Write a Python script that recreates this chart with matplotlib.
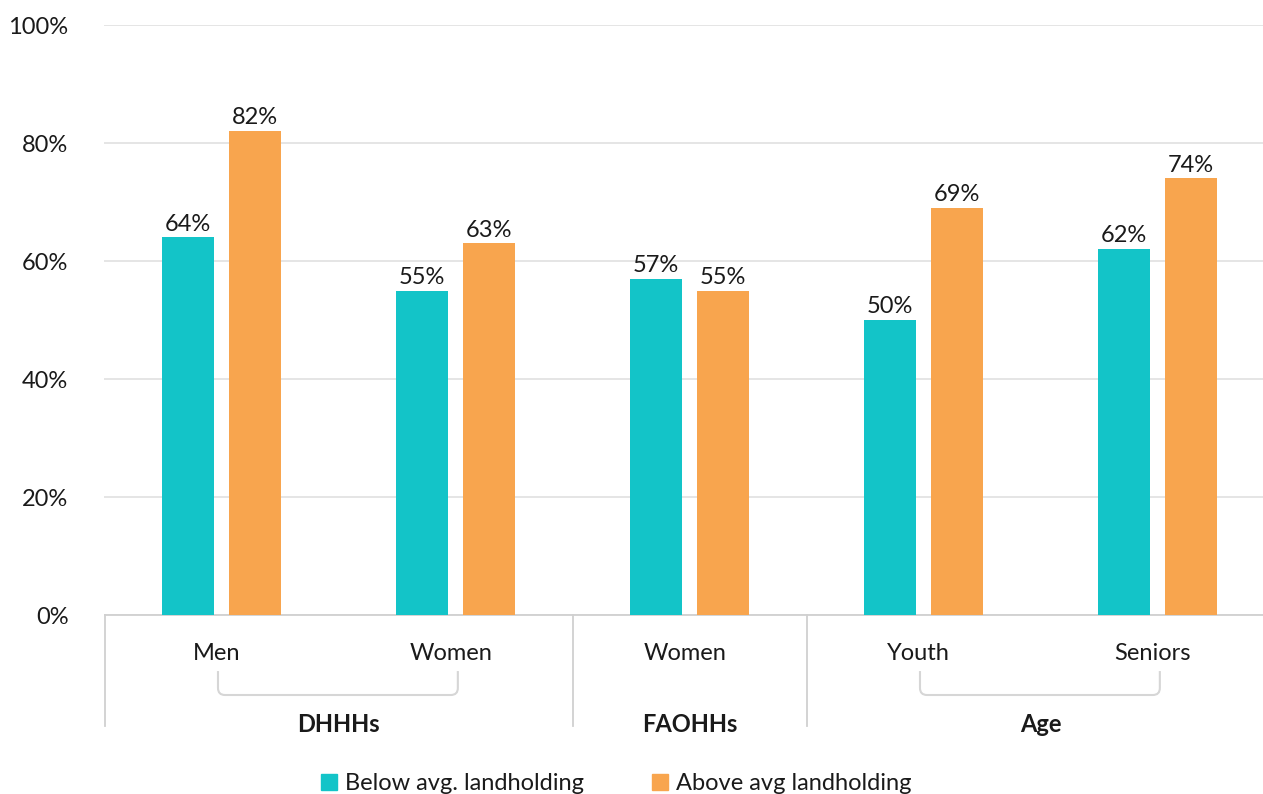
import matplotlib
matplotlib.use("Agg")
import matplotlib.pyplot as plt
from matplotlib.path import Path
from matplotlib.patches import PathPatch, Patch
from matplotlib.transforms import IdentityTransform, blended_transform_factory
import numpy as np

# data
categories = ["Men", "Women", "Women", "Youth", "Seniors"]
below_avg = [64, 55, 57, 50, 62]
above_avg = [82, 63, 55, 69, 74]
groups = ["DHHHs", "FAOHHs", "Age"]
group_spans = [(0, 1), (2, 2), (3, 4)]   # first and last category of each group
series_names = ["Below avg. landholding", "Above avg landholding"]

TEAL = "#13C4C8"
ORANGE = "#F8A54E"
TXT = "#1a1a1a"
GRID = "#e3e3e3"
FS = 17

plt.rcParams["font.family"] = ["Lato", "DejaVu Sans"]

W, H = 1263, 794
fig = plt.figure(figsize=(W / 100, H / 100), dpi=100)
ax = fig.add_axes([104.5 / W, 1 - 615 / H, 1 - 104.5 / W, (615 - 25) / H])

x = np.arange(len(categories))
bw = 0.222
off = 0.143
b1 = ax.bar(x - off, below_avg, bw, color=TEAL, zorder=3)
b2 = ax.bar(x + off, above_avg, bw, color=ORANGE, zorder=3)

for bars, vals in ((b1, below_avg), (b2, above_avg)):
    for rect, v in zip(bars, vals):
        ax.annotate(f"{v}%", (rect.get_x() + rect.get_width() / 2, v),
                    xytext=(0, 2), textcoords="offset points",
                    ha="center", va="bottom", fontsize=FS, color=TXT)

ax.set_xlim(-0.5, -0.5 + (W - 104.5) / 234)
ax.set_ylim(0, 100)
ax.set_yticks(range(0, 101, 20))
ax.set_yticklabels([f"{t}%" for t in range(0, 101, 20)], fontsize=FS, color=TXT)
ax.tick_params(axis="y", length=0, pad=26)
ax.set_xticks([])
ax.grid(axis="y", color=GRID, linewidth=1.3, zorder=0)
for s in ("left", "right", "top"):
    ax.spines[s].set_visible(False)
ax.spines["bottom"].set_color("#d0d0d0")
ax.spines["bottom"].set_linewidth(1.3)

trans = blended_transform_factory(ax.transData, ax.transAxes)

# category labels
for xi, name in zip(x, categories):
    ax.text(xi - 0.02, -0.065, name, transform=trans, ha="center", va="center",
            fontsize=FS, color=TXT)

# group separators and group names
seps = [-0.5] + [b + 0.5 for _, b in group_spans[:-1]]
for sx in seps:
    ax.plot([sx, sx], [0, -0.188], transform=trans, color="#d0d0d0",
            linewidth=1.3, clip_on=False)
for name, (a, b) in zip(groups, group_spans):
    ax.text((a + b) / 2, -0.185, name, transform=trans, ha="center",
            va="center", fontsize=FS, fontweight="bold", color=TXT)

# rounded brackets joining the categories of multi-member groups
fig.canvas.draw()
r = 7
for a, b in group_spans:
    if a == b:
        continue
    x0, y0 = trans.transform((a - 0.015, -0.095))
    x1, y1 = trans.transform((b + 0.01, -0.1356))
    verts = [(x0, y0), (x0, y1 + r), (x0, y1), (x0 + r, y1),
             (x1 - r, y1), (x1, y1), (x1, y1 + r), (x1, y0)]
    codes = [Path.MOVETO, Path.LINETO, Path.CURVE3, Path.CURVE3,
             Path.LINETO, Path.CURVE3, Path.CURVE3, Path.LINETO]
    fig.add_artist(PathPatch(Path(verts, codes), transform=IdentityTransform(),
                             facecolor="none", edgecolor="#d6d6d6", linewidth=1.5))

handles = [Patch(color=TEAL), Patch(color=ORANGE)]
fig.legend(handles, series_names, loc="center", bbox_to_anchor=(0.488, 1 - 784 / H),
           ncol=2, frameon=False, fontsize=FS, handlelength=0.65, handleheight=0.65,
           handletextpad=0.35, columnspacing=2.9, labelcolor=TXT)

fig.savefig("out.png", dpi=100)
